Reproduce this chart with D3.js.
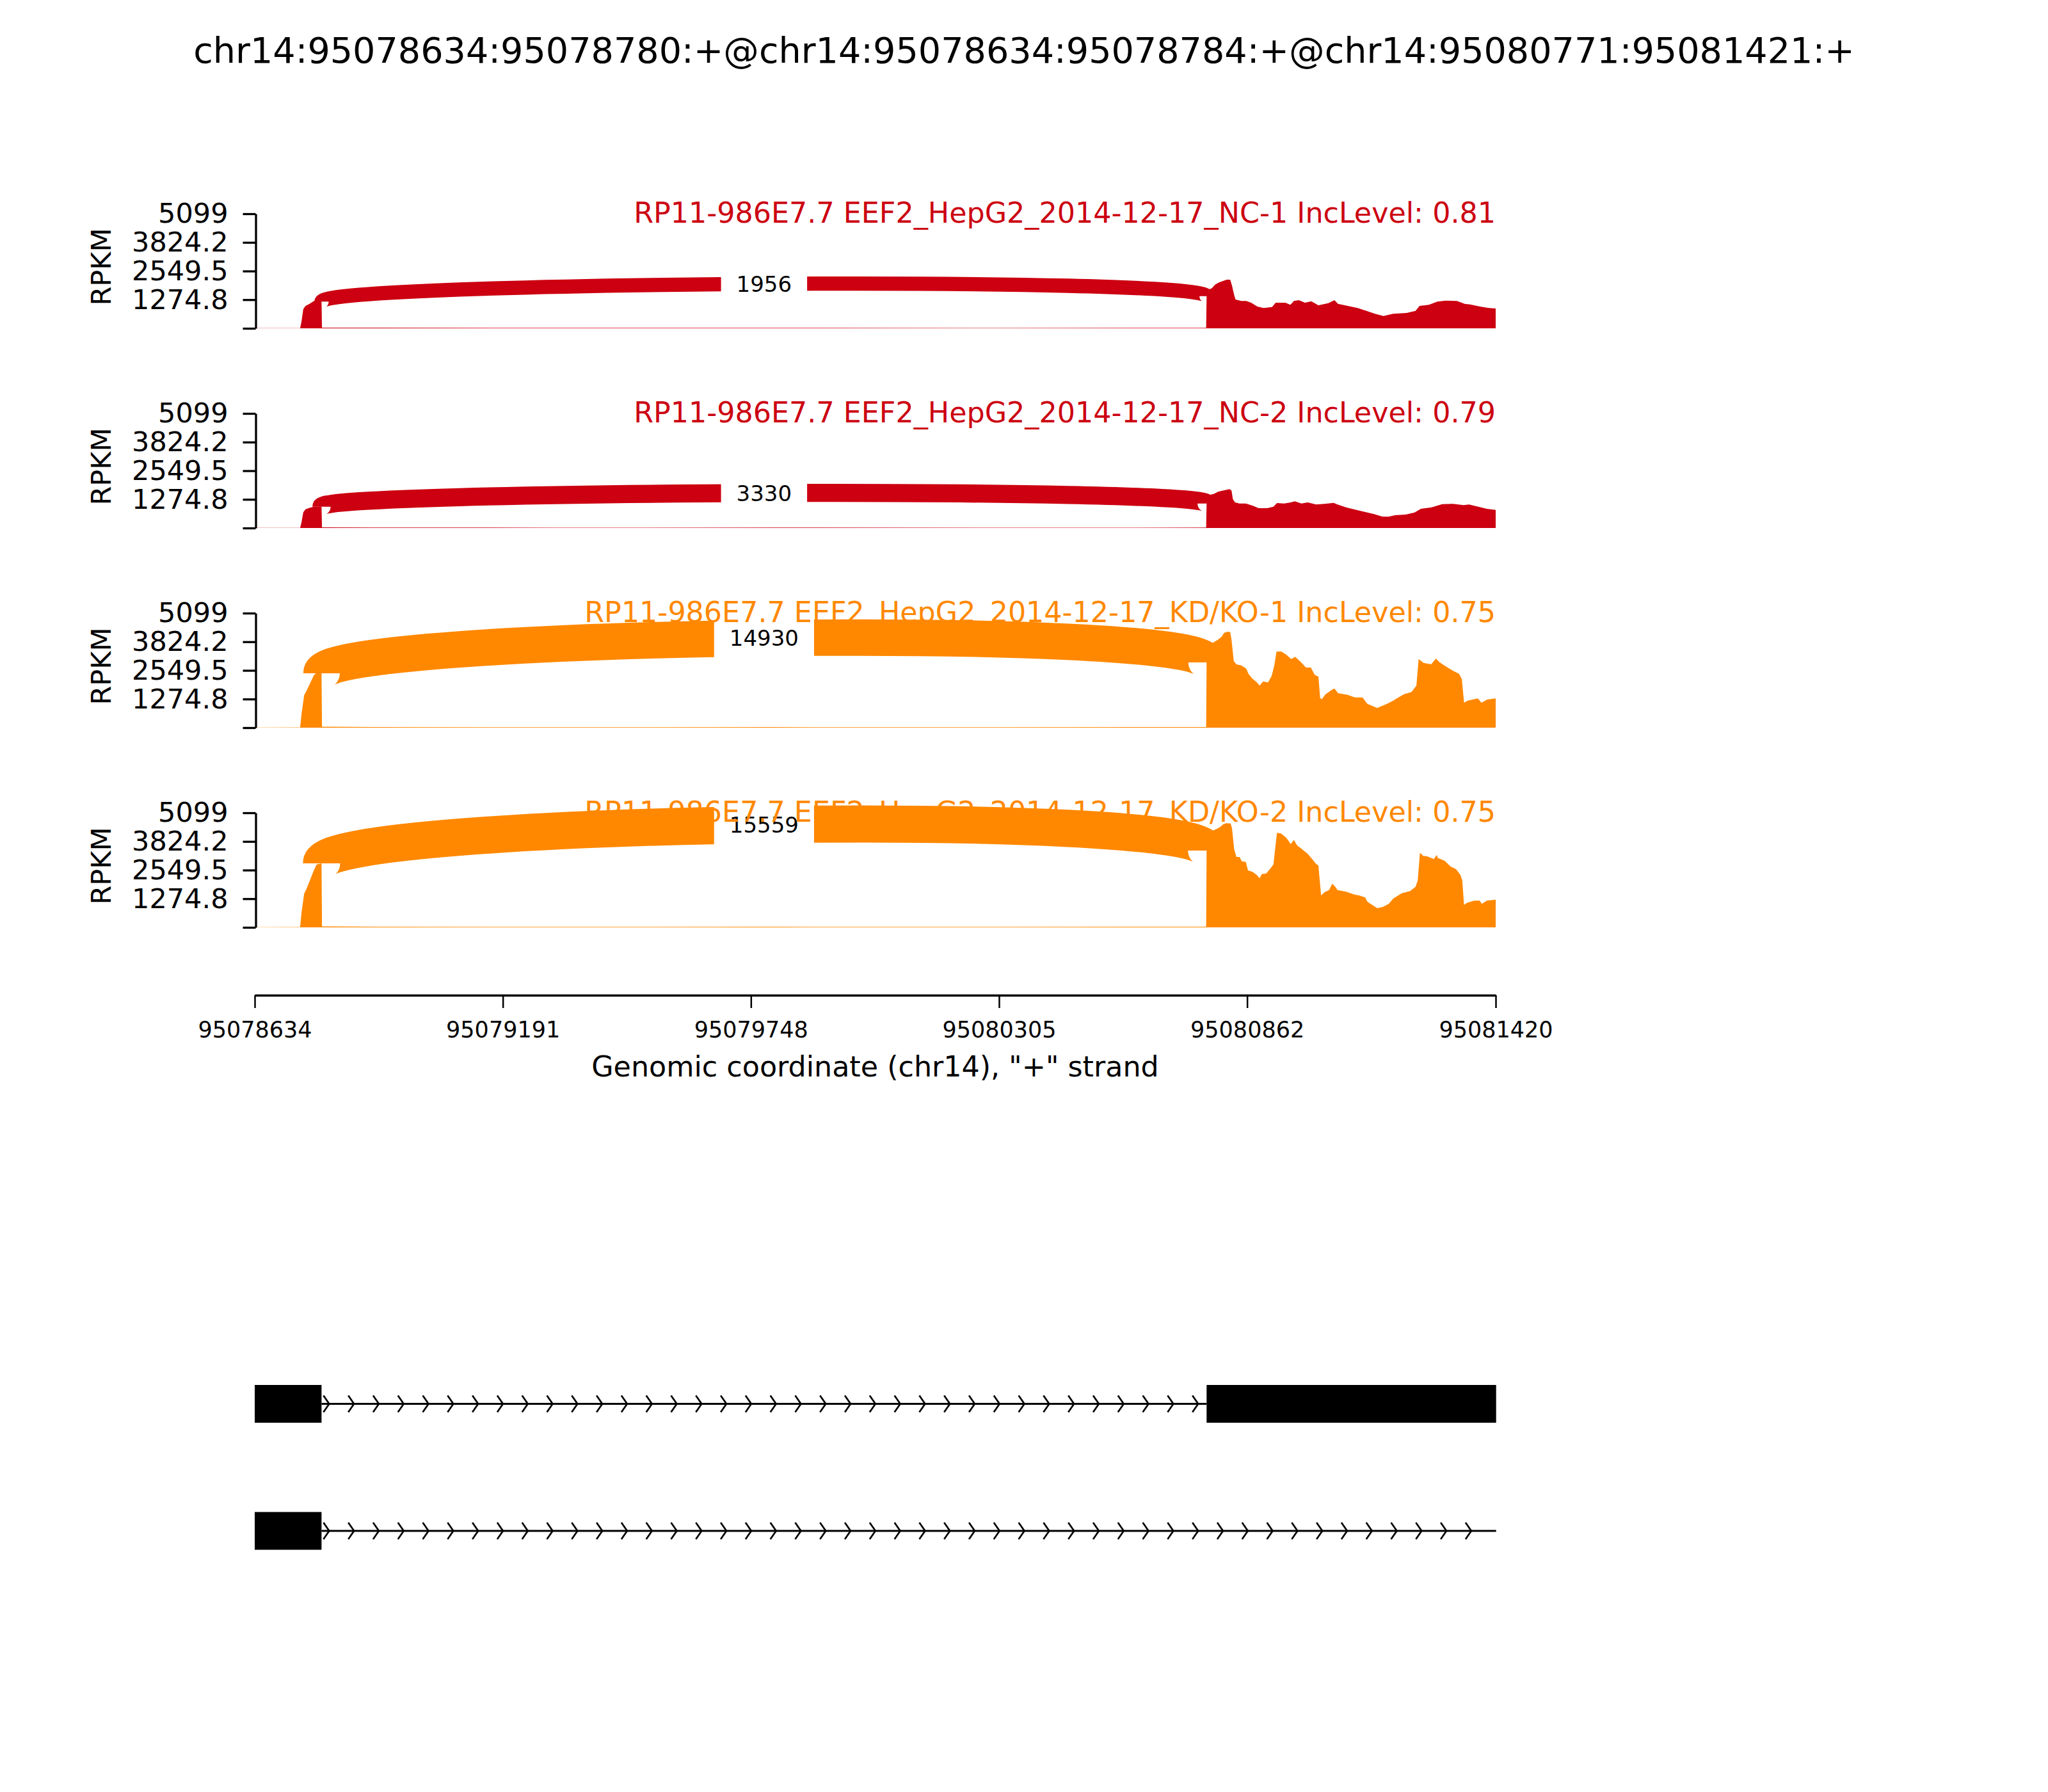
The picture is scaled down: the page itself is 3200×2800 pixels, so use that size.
<!DOCTYPE html>
<html>
<head>
<meta charset="utf-8">
<script src="https://cdn.jsdelivr.net/npm/d3@7"></script>
<style>
  body { margin: 0; background: #fff; }
  svg { display: block; }
  text { font-family: "DejaVu Sans", sans-serif; }
</style>
</head>
<body>
<div id="chart"></div>
<script>
const title = "chr14:95078634:95078780:+@chr14:95078634:95078784:+@chr14:95080771:95081421:+";
const geneName = "RP11-986E7.7";
const sampleNames = ["EEF2_HepG2_2014-12-17_NC-1", "EEF2_HepG2_2014-12-17_NC-2",
                     "EEF2_HepG2_2014-12-17_KD/KO-1", "EEF2_HepG2_2014-12-17_KD/KO-2"];
const incLevels = ["0.81", "0.79", "0.75", "0.75"];
const sampleColors = ["#CC0011", "#CC0011", "#FF8800", "#FF8800"];
const junctionCounts = [1956, 3330, 14930, 15559];
const junctionStart = 95078784;
const junctionEnd = 95080771;

const xStart = 95078634, xEnd = 95081420;
const xTicks = [95078634, 95079191, 95079748, 95080305, 95080862, 95081420];
const yTicks = [0, 1274.8, 2549.5, 3824.2, 5099];
const yTickLabels = ["", "1274.8", "2549.5", "3824.2", "5099"];

// coverage, [position, RPKM]
const covNC1 = [[95078634,5],[95078736,8],[95078739,300],[95078743,855],[95078748,997],[95078757,1092],[95078767,1216],[95078775,1210],[95078784,1187],
  [95078785,30],[95078900,25],[95079300,18],[95079800,22],[95080300,16],[95080770,20],
  [95080771,1430],[95080773,1700],[95080783,1785],[95080790,1947],[95080799,2042],[95080808,2108],[95080816,2165],[95080824,2165],[95080828,1899],[95080833,1472],[95080836,1282],[95080849,1216],[95080860,1216],[95080871,1140],[95080885,969],[95080899,902],[95080918,950],[95080926,1140],[95080948,1140],[95080959,1045],[95080967,1216],[95080978,1254],[95080992,1140],[95081006,1206],[95081022,1026],[95081044,1121],[95081058,1254],[95081066,1092],[95081088,997],[95081110,902],[95081130,779],[95081149,646],[95081168,551],[95081190,646],[95081220,684],[95081240,779],[95081249,997],[95081270,1045],[95081289,1187],[95081308,1235],[95081333,1216],[95081350,1092],[95081363,1064],[95081385,969],[95081405,902],[95081420,883]];
const covNC2 = [[95078634,5],[95078736,8],[95078739,250],[95078743,700],[95078748,830],[95078757,900],[95078767,950],[95078784,950],
  [95078785,28],[95078900,22],[95079300,16],[95079800,20],[95080300,15],[95080770,18],
  [95080771,1091],[95080773,1450],[95080787,1520],[95080797,1614],[95080811,1681],[95080823,1728],[95080827,1660],[95080830,1282],[95080835,1140],[95080845,1092],[95080859,1092],[95080874,997],[95080888,883],[95080907,883],[95080921,950],[95080929,1111],[95080945,1092],[95080960,1140],[95080969,1187],[95080984,1092],[95080998,1140],[95081017,1045],[95081036,1073],[95081056,1121],[95081065,1045],[95081084,921],[95081103,826],[95081127,712],[95081147,617],[95081166,503],[95081180,503],[95081194,570],[95081218,598],[95081238,693],[95081252,855],[95081276,921],[95081300,1064],[95081324,1073],[95081348,1016],[95081360,1045],[95081381,950],[95081400,855],[95081420,807]];
const covKD1 = [[95078634,8],[95078736,12],[95078739,600],[95078745,1444],[95078750,1633],[95078758,1966],[95078767,2346],[95078773,2441],[95078784,2420],
  [95078785,40],[95078900,30],[95079300,22],[95079800,25],[95080300,20],[95080770,30],
  [95080771,2906],[95080774,3600],[95080788,3818],[95080796,3913],[95080805,4055],[95080810,4217],[95080818,4274],[95080824,4250],[95080827,3913],[95080832,2963],[95080838,2820],[95080849,2773],[95080860,2631],[95080865,2393],[95080873,2203],[95080884,2013],[95080890,1871],[95080898,2061],[95080909,2013],[95080917,2298],[95080923,2773],[95080928,3390],[95080939,3390],[95080950,3248],[95080961,3058],[95080970,3153],[95080983,2916],[95080994,2678],[95081005,2678],[95081014,2346],[95081022,2279],[95081026,1301],[95081030,1273],[95081038,1491],[95081052,1681],[95081058,1747],[95081066,1539],[95081088,1463],[95081104,1349],[95081121,1349],[95081132,1064],[95081143,969],[95081154,874],[95081165,969],[95081176,1064],[95081190,1206],[95081198,1301],[95081214,1491],[95081231,1586],[95081242,1871],[95081247,3058],[95081258,2887],[95081275,2820],[95081286,3077],[95081294,2916],[95081308,2726],[95081324,2536],[95081338,2393],[95081344,2156],[95081349,1111],[95081357,1206],[95081380,1301],[95081388,1111],[95081401,1254],[95081420,1301]];
const covKD2 = [[95078634,8],[95078736,12],[95078739,650],[95078745,1500],[95078750,1700],[95078758,2100],[95078767,2550],[95078773,2800],[95078784,2850],
  [95078785,40],[95078900,30],[95079300,22],[95079800,25],[95080300,20],[95080770,30],
  [95080771,3418],[95080774,4200],[95080787,4321],[95080797,4416],[95080804,4511],[95080809,4600],[95080816,4635],[95080825,4620],[95080828,4416],[95080833,3466],[95080838,3134],[95080845,3134],[95080850,2944],[95080859,2910],[95080864,2536],[95080874,2469],[95080883,2346],[95080890,2184],[95080895,2375],[95080905,2403],[95080914,2612],[95080921,2802],[95080929,4207],[95080938,4178],[95080950,3989],[95080960,3704],[95080967,3894],[95080974,3656],[95080989,3419],[95080998,3276],[95081008,3039],[95081017,2821],[95081022,2754],[95081028,1425],[95081036,1567],[95081046,1662],[95081053,1947],[95081060,1804],[95081065,1662],[95081084,1586],[95081104,1453],[95081113,1425],[95081127,1330],[95081132,1140],[95081147,950],[95081154,855],[95081166,902],[95081180,1045],[95081190,1282],[95081209,1520],[95081228,1614],[95081240,1804],[95081245,2089],[95081250,3324],[95081257,3181],[95081266,3162],[95081281,3039],[95081288,3229],[95081290,3090],[95081305,2973],[95081319,2707],[95081331,2593],[95081341,2327],[95081345,2089],[95081349,997],[95081355,1092],[95081372,1187],[95081384,1187],[95081389,1045],[95081400,1187],[95081420,1235]];
const coverages = [covNC1, covNC2, covKD1, covKD2];

// gene models: exons and where the transcript line ends
const transcripts = [
  [[95078634, 95078784], [95080771, 95081421]],
  [[95078634, 95078784]]
];
const transcriptEnds = [95081421, 95081421];
const nArrows = 50;

const width = 3200, height = 2800;
const left = 398, right = 2337;
const panelTop = 334, panelStep = 312, panelH = 179;

const svg = d3.select('#chart').append('svg')
  .attr('width', width)
  .attr('height', height);
svg.append('rect').attr('width', width).attr('height', height).attr('fill', '#fff');

svg.append('text')
  .attr('x', width / 2)
  .attr('y', 98)
  .attr('text-anchor', 'middle')
  .style('font-size', '55.6px')
  .text(title);

const x = d3.scaleLinear().domain([xStart, xEnd]).range([left, right]);

coverages.forEach((cov, i) => {
  const top = panelTop + i * panelStep;
  const y = d3.scaleLinear().domain([0, yTicks[yTicks.length - 1]]).range([top + panelH, top]);
  const g = svg.append('g');
  const color = sampleColors[i];

  // coverage
  const area = d3.area()
    .x(d => x(d[0]))
    .y0(y(0))
    .y1(d => y(d[1]));
  g.append('path')
    .datum(cov)
    .attr('d', area)
    .attr('fill', color);

  // junction arc
  const valueAt = pos => cov.find(d => d[0] === pos)[1];
  const numLeft = valueAt(junctionStart);
  const numRight = valueAt(junctionEnd);
  const h = 0.375 * 1.1 * d3.max(cov, d => d[1]);
  const ss1 = x(junctionStart), ss2 = x(junctionEnd);
  const pts = [[ss1, y(numLeft)], [ss1, y(numLeft + h)], [ss2, y(numRight + h)], [ss2, y(numRight)]];
  const p = d3.path();
  p.moveTo(pts[0][0], pts[0][1]);
  p.bezierCurveTo(pts[1][0], pts[1][1], pts[2][0], pts[2][1], pts[3][0], pts[3][1]);
  const lw = 2.6 + 0.445 * Math.sqrt(junctionCounts[i]);
  g.append('path')
    .attr('d', p.toString())
    .attr('fill', 'none')
    .attr('stroke', color)
    .attr('stroke-width', lw)
    .attr('stroke-linecap', 'butt');

  const midX = (pts[0][0] + 3 * pts[1][0] + 3 * pts[2][0] + pts[3][0]) / 8;
  const midY = (pts[0][1] + 3 * pts[1][1] + 3 * pts[2][1] + pts[3][1]) / 8;
  const box = g.append('rect').attr('fill', '#fff');
  const count = g.append('text')
    .attr('x', midX)
    .attr('y', midY)
    .attr('text-anchor', 'middle')
    .attr('dy', '0.36em')
    .style('font-size', '34px')
    .text(junctionCounts[i]);
  const tw = count.node().getComputedTextLength();
  box.attr('x', midX - tw / 2 - 24)
    .attr('y', midY - 44)
    .attr('width', tw + 48)
    .attr('height', 88);

  // y axis
  const yAxis = d3.axisLeft(y)
    .tickValues(yTicks)
    .tickFormat((d, j) => yTickLabels[j])
    .tickSize(20)
    .tickSizeOuter(0)
    .tickPadding(23);
  const ya = g.append('g')
    .attr('transform', `translate(${left + 1.5}, 0)`)
    .call(yAxis);
  ya.select('.domain').attr('stroke-width', 3.3);
  ya.selectAll('.tick line').attr('stroke-width', 3.3);
  ya.selectAll('.tick text')
    .style('font-size', '43px')
    .style('font-family', '"DejaVu Sans"');

  g.append('text')
    .attr('transform', `translate(173, ${top + panelH / 2 - 6.5}) rotate(-90)`)
    .attr('text-anchor', 'middle')
    .style('font-size', '43px')
    .text('RPKM');

  g.append('text')
    .attr('x', right)
    .attr('y', top + 14)
    .attr('text-anchor', 'end')
    .attr('fill', color)
    .style('font-size', '44.4px')
    .text(`${geneName} ${sampleNames[i]} IncLevel: ${incLevels[i]}`);
});

// genomic x axis
const xAxis = d3.axisBottom(x)
  .tickValues(xTicks)
  .tickFormat(d3.format('d'))
  .tickSize(20)
  .tickSizeOuter(0)
  .tickPadding(21);
const xa = svg.append('g')
  .attr('transform', 'translate(0, 1555)')
  .call(xAxis);
xa.select('.domain').attr('stroke-width', 3.5);
xa.selectAll('.tick line').attr('stroke-width', 2.5);
xa.selectAll('.tick text')
  .style('font-size', '35px')
  .style('font-family', '"DejaVu Sans"');

svg.append('text')
  .attr('x', (left + right) / 2)
  .attr('y', 1682)
  .attr('text-anchor', 'middle')
  .style('font-size', '44.4px')
  .text('Genomic coordinate (chr14), "+" strand');

// gene structures
const ty = d3.scaleLinear().domain([0, 1]).range([2193.5, 2392]);
const exonH = 59;
const arrowStep = (transcriptEnds[0] - xStart) / nArrows;

transcripts.forEach((exons, i) => {
  const g = svg.append('g');
  const cy = ty(i);
  const lastEnd = transcriptEnds[i];
  const introns = [];
  for (let k = 0; k < exons.length; k++) {
    const s = exons[k][1];
    const e = k + 1 < exons.length ? exons[k + 1][0] : lastEnd;
    if (e > s) introns.push([s, e]);
  }

  g.selectAll('line.intron')
    .data(introns)
    .enter()
    .append('line')
    .attr('x1', d => x(d[0]))
    .attr('x2', d => x(d[1]))
    .attr('y1', cy)
    .attr('y2', cy)
    .attr('stroke', '#000')
    .attr('stroke-width', 3);

  const arrows = d3.range(nArrows + 1)
    .map(k => xStart + k * arrowStep)
    .filter(pos => introns.some(d => pos > d[0] && pos < d[1]));
  g.selectAll('path.arrow')
    .data(arrows)
    .enter()
    .append('path')
    .attr('d', pos => `M${x(pos) - 9},${cy - 13}L${x(pos)},${cy}L${x(pos) - 9},${cy + 13}`)
    .attr('fill', 'none')
    .attr('stroke', '#000')
    .attr('stroke-width', 2.7);

  g.selectAll('rect')
    .data(exons)
    .enter()
    .append('rect')
    .attr('x', d => x(d[0]))
    .attr('width', d => x(d[1]) - x(d[0]))
    .attr('y', cy - exonH / 2)
    .attr('height', exonH)
    .attr('fill', '#000');
});
</script>
</body>
</html>
